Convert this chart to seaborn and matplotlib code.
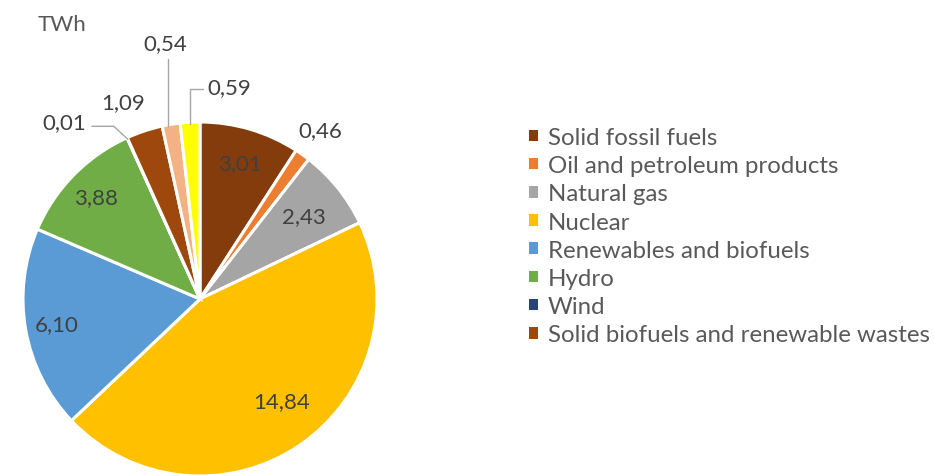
import numpy as np
import matplotlib
matplotlib.use("Agg")
import matplotlib.pyplot as plt
import seaborn as sns

# Electricity generation by source, TWh
legend_labels = [
    "Solid fossil fuels",
    "Oil and petroleum products",
    "Natural gas",
    "Nuclear",
    "Renewables and biofuels",
    "Hydro",
    "Wind",
    "Solid biofuels and renewable wastes",
]
values = [3.01, 0.46, 2.43, 14.84, 6.10, 3.88, 0.01, 1.09, 0.54, 0.59]
value_labels = ["3,01", "0,46", "2,43", "14,84", "6,10", "3,88", "0,01", "1,09", "0,54", "0,59"]
colors = ["#843C0C", "#ED7D31", "#A5A5A5", "#FFC000", "#5B9BD5",
          "#70AD47", "#264478", "#9E480E", "#F4B183", "#FFFF00"]

sns.set_theme(style="white")
plt.rcParams["font.family"] = ["Lato", "DejaVu Sans"]

W, H = 934, 477
fig = plt.figure(figsize=(W / 100, H / 100), dpi=100)
ax = fig.add_axes([0, 0, 1, 1])

cx, cy, R = 200, 177, 177
wedges, _ = ax.pie(values, colors=colors, startangle=90, counterclock=False,
                   center=(cx, cy), radius=R,
                   wedgeprops=dict(edgecolor="white", linewidth=2.2))
ax.set_xlim(0, W)
ax.set_ylim(0, H)
ax.set_aspect("equal")
ax.axis("off")

label_color = "#404040"
fs = 16

def mid_angle(w):
    return np.deg2rad((w.theta1 + w.theta2) / 2)

def edge_point(w, r=1.0):
    a = mid_angle(w)
    return cx + R * r * np.cos(a), cy + R * r * np.sin(a)

# labels inside the larger slices: (radius fraction, angle shift in degrees)
inside = {0: (0.80, 0), 2: (0.75, 0), 3: (0.74, 4), 4: (0.82, 0), 5: (0.82, 0)}
for i, (rf, shift) in inside.items():
    a = mid_angle(wedges[i]) + np.deg2rad(shift)
    x, y = cx + R * rf * np.cos(a), cy + R * rf * np.sin(a)
    ax.text(x, y, value_labels[i], ha="center", va="center",
            fontsize=fs, color=label_color)

line_color = "#A6A6A6"

# Oil and petroleum products
x, y = edge_point(wedges[1], 1.17)
ax.text(x, y, value_labels[1], ha="center", va="center", fontsize=fs, color=label_color)

# Wind, with an elbow leader
ex, ey = edge_point(wedges[6], 0.99)
pts = np.array([[ex, ey], [ex - 14, ey + 13], [ex - 36, ey + 13]])
ax.plot(pts[:, 0], pts[:, 1], color=line_color, lw=1)
ax.text(pts[2, 0] - 6, pts[2, 1] + 4, value_labels[6], ha="right", va="center",
        fontsize=fs, color=label_color)

# Solid biofuels and renewable wastes
ex, ey = edge_point(wedges[7], 1.0)
ax.text(ex - 21, ey + 29, value_labels[7], ha="center", va="center",
        fontsize=fs, color=label_color)

# small slice next to it, vertical leader
ex, ey = edge_point(wedges[8], 0.99)
ax.plot([ex - 3, ex - 3], [ey, ey + 67], color=line_color, lw=1)
ax.text(ex - 6, ey + 83, value_labels[8], ha="center", va="center",
        fontsize=fs, color=label_color)

# last slice, elbow leader to the right
ex, ey = edge_point(wedges[9], 0.99)
ax.plot([ex, ex, ex + 13], [ey, ey + 35, ey + 35], color=line_color, lw=1)
ax.text(ex + 17, ey + 37, value_labels[9], ha="left", va="center",
        fontsize=fs, color=label_color)

ax.text(38, H - 25, "TWh", ha="left", va="center", fontsize=fs, color="#595959")

leg = fig.legend(wedges[:8], legend_labels, loc="upper left",
                 bbox_to_anchor=(517 / W, 1 - 116 / H), frameon=False,
                 fontsize=17.3, handlelength=0.36, handleheight=0.36,
                 handletextpad=0.42, labelspacing=0.30, borderpad=0)
for t in leg.get_texts():
    t.set_color("#595959")
for h in leg.legend_handles:
    h.set_edgecolor("none")

fig.savefig("out.png", dpi=100)
